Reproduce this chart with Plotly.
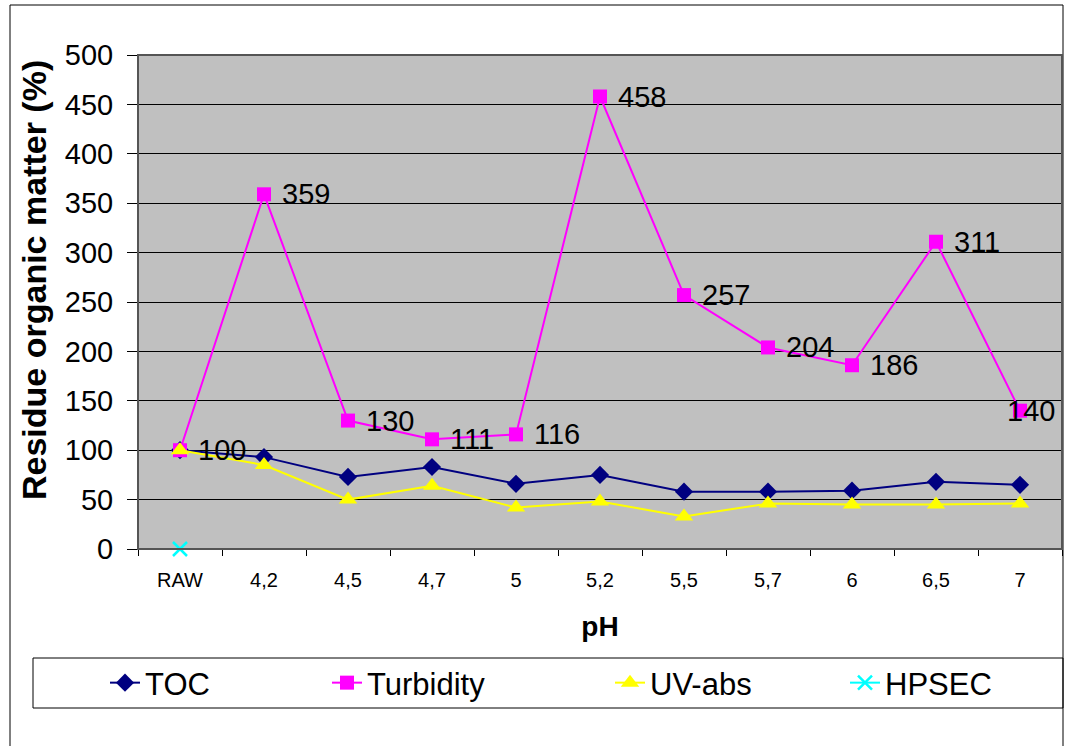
import plotly.graph_objects as go

categories = ["RAW", "4,2", "4,5", "4,7", "5", "5,2", "5,5", "5,7", "6", "6,5", "7"]
toc = [100, 93, 73, 83, 66, 75, 58, 58, 59, 68, 65]
turbidity = [100, 359, 130, 111, 116, 458, 257, 204, 186, 311, 140]
uv_abs = [100, 85, 50, 64, 42, 48, 33, 46, 45, 45, 46]
hpsec = [0, None, None, None, None, None, None, None, None, None, None]
y_ticks = [0, 50, 100, 150, 200, 250, 300, 350, 400, 450, 500]

FONT = "Liberation Sans, Arial, sans-serif"

# plot-area geometry in pixels (for placing paper-referenced decorations)
L, R, T, B = 138, 1062, 55, 549
PW, PH = R - L, B - T


def px(x):
    return (x - L) / PW


def py(y):
    return (B - y) / PH


fig = go.Figure()
fig.add_trace(go.Scatter(x=categories, y=toc, name="TOC", mode="lines+markers",
                         legend="legend",
                         line=dict(color="#000080", width=2),
                         marker=dict(symbol="diamond", size=14, color="#000080")))
fig.add_trace(go.Scatter(x=categories, y=turbidity, name="Turbidity", mode="lines+markers",
                         legend="legend2",
                         line=dict(color="#FF00FF", width=2),
                         marker=dict(symbol="square", size=14, color="#FF00FF")))
fig.add_trace(go.Scatter(x=categories, y=uv_abs, name="UV-abs", mode="lines+markers",
                         legend="legend3",
                         line=dict(color="#FFFF00", width=2),
                         marker=dict(symbol="triangle-up", size=16, color="#FFFF00")))
fig.add_trace(go.Scatter(x=categories, y=hpsec, name="HPSEC", mode="lines+markers",
                         legend="legend4", cliponaxis=False,
                         line=dict(color="#00FFFF", width=2),
                         marker=dict(symbol="x-thin", size=14, color="#00FFFF",
                                     line=dict(color="#00FFFF", width=2.5))))

# data labels for turbidity (x given as category index)
for i, v in enumerate(turbidity):
    last = i == len(turbidity) - 1
    fig.add_annotation(x=i, y=v, text=str(v), showarrow=False,
                       xanchor="right" if last else "left",
                       xshift=37 if last else 16,
                       font=dict(family=FONT, size=29, color="black"))

# y-axis title (placed as in the original, slightly above plot centre)
fig.add_annotation(xref="paper", yref="paper", x=px(34), y=py(280),
                   text="<b>Residue organic matter (%)</b>", textangle=-90,
                   showarrow=False, xanchor="center", yanchor="middle",
                   font=dict(family=FONT, size=34, color="black"))

# outer chart border (left, top, right)
fig.add_shape(type="path", xref="paper", yref="paper",
              path=f"M {px(10)},{py(760)} L {px(10)},{py(5)} L {px(1063)},{py(5)} L {px(1063)},{py(760)}",
              line=dict(color="black", width=1))
# plot area border
fig.add_shape(type="rect", xref="paper", yref="paper", x0=0, y0=0, x1=1, y1=1,
              line=dict(color="#555555", width=2), layer="above")
# legend box
fig.add_shape(type="rect", xref="paper", yref="paper",
              x0=px(33), x1=px(1063), y0=py(708), y1=py(658),
              line=dict(color="black", width=1))

leg_common = dict(orientation="h", xanchor="left", y=py(683), yanchor="middle",
                  font=dict(family=FONT, size=31), itemwidth=30,
                  bgcolor="rgba(0,0,0,0)", borderwidth=0)

fig.update_layout(
    width=1070, height=746,
    margin=dict(l=L, r=1070 - R, t=T, b=746 - B),
    paper_bgcolor="white", plot_bgcolor="#C0C0C0",
    font=dict(family=FONT, color="black"),
    showlegend=True,
    legend=dict(x=px(105), **leg_common),
    legend2=dict(x=px(327), **leg_common),
    legend3=dict(x=px(610), **leg_common),
    legend4=dict(x=px(845), **leg_common),
    xaxis=dict(type="category", range=[-0.5, 10.5], tickson="boundaries",
               ticks="outside", ticklen=6, tickcolor="black",
               showline=True, linecolor="black", linewidth=1, showgrid=False,
               tickfont=dict(size=20), ticklabelstandoff=13,
               title=dict(text="<b>pH</b>", font=dict(size=28), standoff=26)),
    yaxis=dict(range=[0, 500], tickvals=y_ticks, ticks="outside", ticklen=10,
               tickcolor="black", showline=True, linecolor="black", linewidth=1,
               showgrid=True, gridcolor="black", gridwidth=1, zeroline=False,
               tickfont=dict(size=29), ticklabelstandoff=8),
)

fig.write_html("out.html")
